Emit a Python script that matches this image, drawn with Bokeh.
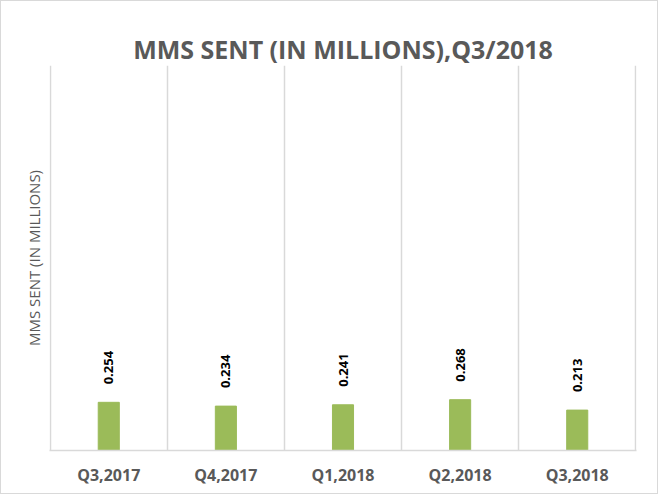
from math import pi
from bokeh.plotting import figure
from bokeh.models import Range1d, FixedTicker, ColumnDataSource, LinearAxis
from bokeh.core.properties import value
from bokeh.embed import file_html
from bokeh.resources import INLINE

title_text = "MMS SENT (IN MILLIONS),Q3/2018"
categories = ["Q3,2017", "Q4,2017", "Q1,2018", "Q2,2018", "Q3,2018"]
mms_sent = [0.254, 0.234, 0.241, 0.268, 0.213]
value_labels = ["0.254", "0.234", "0.241", "0.268", "0.213"]
y_max = 2.03

centers = [i + 0.5 for i in range(len(categories))]
source = ColumnDataSource(dict(x=centers, top=mms_sent, label=value_labels))

p = figure(width=658, height=494, output_backend="svg", toolbar_location=None,
           x_range=Range1d(-0.006, len(categories) + 0.006), y_range=Range1d(0, y_max),
           min_border_left=48, min_border_right=23, min_border_top=64, min_border_bottom=45)
p.styles = {"border": "1px solid #d9d9d9", "box-sizing": "border-box"}

p.title.text = title_text
p.title.align = "center"
p.title.text_font = "Open Sans"
p.title.text_font_size = "25px"
p.title.text_font_style = "bold"
p.title.text_color = "#595959"
p.title.standoff = 0

# empty axis above the frame: only reserves space between the title and the plot area
spacer_axis = LinearAxis(ticker=FixedTicker(ticks=[]), axis_line_color=None,
                         major_tick_line_color=None, minor_tick_line_color=None,
                         major_tick_out=13, major_tick_in=0, minor_tick_out=0,
                         major_label_standoff=0, major_label_text_font_size="0px")
p.add_layout(spacer_axis, "above")

p.vbar(x="x", top="top", bottom=0, width=0.18, source=source, color="#9BBB59")
p.text(x="x", y="top", text="label", source=source, angle=pi / 2, y_offset=-18,
       text_align="left", text_baseline="middle", text_font=value("Open Sans"),
       text_font_size="13px", text_font_style="bold", text_color="#000000")

p.outline_line_color = None
p.ygrid.visible = False
p.xgrid.ticker = FixedTicker(ticks=list(range(len(categories) + 1)))
p.xgrid.grid_line_color = "#d9d9d9"
p.xgrid.grid_line_width = 1.5

p.below[0].ticker = FixedTicker(ticks=centers)
p.below[0].major_label_overrides = {c: lab for c, lab in zip(centers, categories)}
p.below[0].major_tick_line_color = None
p.below[0].minor_tick_line_color = None
p.below[0].axis_line_color = "#d9d9d9"
p.below[0].axis_line_width = 1.5
p.below[0].major_label_text_font = "Open Sans"
p.below[0].major_label_text_font_size = "16px"
p.below[0].major_label_text_font_style = "bold"
p.below[0].major_label_text_color = "#595959"
p.below[0].major_label_standoff = 7

p.yaxis.axis_label = "MMS SENT (IN MILLIONS)"
p.yaxis.axis_label_text_font = "Open Sans"
p.yaxis.axis_label_text_font_size = "15px"
p.yaxis.axis_label_text_font_style = "normal"
p.yaxis.axis_label_text_color = "#595959"
p.yaxis.major_label_text_font_size = "0px"
p.yaxis.major_label_text_color = None
p.yaxis.major_tick_line_color = None
p.yaxis.minor_tick_line_color = None
p.yaxis.axis_line_color = None
p.yaxis.axis_label_standoff = 0

open("out.html", "w").write(file_html(p, INLINE))
